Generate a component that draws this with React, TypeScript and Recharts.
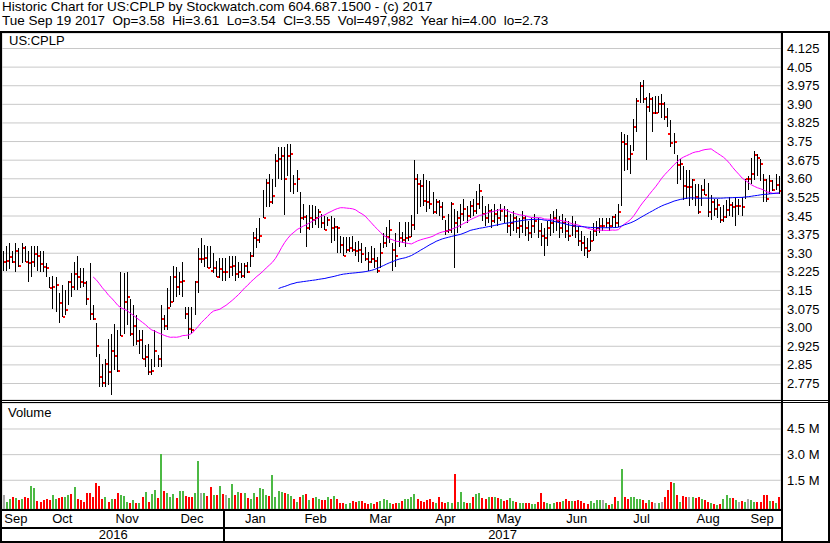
import { ComposedChart, Bar, Line, XAxis, YAxis, CartesianGrid, Cell } from 'recharts'

const FONT = '"Liberation Sans", Arial, sans-serif'

const MONTHS = ['Sep', 'Oct', 'Nov', 'Dec', 'Jan', 'Feb', 'Mar', 'Apr', 'May', 'Jun', 'Jul', 'Aug', 'Sep']
const MONTH_DAYS = [9, 21, 21, 21, 20, 19, 23, 19, 22, 22, 20, 23, 12]
const YEARS = ['2016', '2017']
const YEAR_MONTHS = [4, 9]

// daily bars, Sep 20 2016 .. Sep 19 2017
const HIGH = [
  3.31, 3.33, 3.34, 3.31, 3.34, 3.32, 3.34, 3.33, 3.31,
  3.33, 3.33, 3.33, 3.31, 3.31, 3.26, 3.205, 3.21, 3.205, 3.14, 3.17, 3.15, 3.19, 3.22, 3.265, 3.29, 3.24, 3.24, 3.19, 3.26, 3.09,
  3.02, 2.895, 2.855, 2.875, 2.955, 2.975, 3.015, 2.99, 3.225, 3.22, 3.225, 3.115, 3.09, 3.05, 2.99, 2.99, 2.93, 2.935, 2.875, 2.99, 2.89,
  3.09, 3.05, 3.16, 3.21, 3.25, 3.245, 3.225, 3.265, 3.085, 3.085, 3.085, 3.19, 3.32, 3.36, 3.335, 3.33, 3.33, 3.30, 3.27, 3.28, 3.28,
  3.28, 3.29, 3.29, 3.29, 3.265, 3.26, 3.26, 3.265, 3.305, 3.385, 3.40, 3.44, 3.555, 3.60, 3.62, 3.60, 3.70, 3.73, 3.73, 3.73,
  3.74, 3.74, 3.615, 3.635, 3.545, 3.50, 3.455, 3.495, 3.495, 3.49, 3.48, 3.46, 3.45, 3.445, 3.45, 3.44, 3.41, 3.37, 3.365,
  3.365, 3.365, 3.37, 3.345, 3.35, 3.34, 3.325, 3.305, 3.33, 3.32, 3.285, 3.34, 3.38, 3.405, 3.435, 3.34, 3.38, 3.425, 3.385, 3.425, 3.425, 3.455, 3.675,
  3.62, 3.595, 3.62, 3.595, 3.59, 3.545, 3.52, 3.515, 3.505, 3.435, 3.46, 3.505, 3.48, 3.47, 3.50, 3.52, 3.49, 3.51, 3.52,
  3.55, 3.58, 3.53, 3.49, 3.50, 3.48, 3.50, 3.48, 3.50, 3.49, 3.48, 3.46, 3.47, 3.45, 3.44, 3.47, 3.45, 3.43, 3.44, 3.46, 3.44, 3.42,
  3.40, 3.43, 3.46, 3.47, 3.48, 3.45, 3.46, 3.44, 3.43, 3.45, 3.43, 3.41, 3.39, 3.37, 3.36, 3.39, 3.42, 3.43, 3.44, 3.44, 3.44, 3.44,
  3.45, 3.46, 3.50, 3.79, 3.78, 3.775, 3.735, 3.84, 3.925, 3.99, 4.00, 3.93, 3.945, 3.93, 3.935, 3.935, 3.94, 3.91, 3.885, 3.835,
  3.785, 3.695, 3.68, 3.65, 3.635, 3.635, 3.60, 3.58, 3.58, 3.575, 3.60, 3.585, 3.535, 3.52, 3.52, 3.485, 3.495, 3.515, 3.525, 3.505, 3.525, 3.52, 3.525,
  3.60, 3.61, 3.685, 3.71, 3.70, 3.68, 3.62, 3.60, 3.615, 3.595, 3.62, 3.61,
]
const LOW = [
  3.23, 3.23, 3.235, 3.26, 3.225, 3.245, 3.26, 3.265, 3.185,
  3.205, 3.245, 3.23, 3.225, 3.225, 3.205, 3.16, 3.075, 3.065, 3.02, 3.045, 3.05, 3.09, 3.125, 3.15, 3.15, 3.16, 3.165, 3.09, 3.03, 3.03,
  2.88, 2.76, 2.76, 2.76, 2.77, 2.73, 2.83, 2.82, 2.965, 2.975, 3.01, 2.965, 2.925, 2.93, 2.895, 2.875, 2.84, 2.81, 2.81, 2.84, 2.84,
  2.84, 2.99, 2.99, 3.085, 3.105, 3.125, 3.13, 3.125, 3.035, 2.955, 2.975, 3.05, 3.14, 3.26, 3.245, 3.24, 3.24, 3.22, 3.205, 3.20, 3.19,
  3.19, 3.20, 3.21, 3.19, 3.20, 3.20, 3.20, 3.22, 3.245, 3.285, 3.32, 3.34, 3.44, 3.485, 3.485, 3.50, 3.565, 3.60, 3.595, 3.455,
  3.61, 3.545, 3.54, 3.545, 3.38, 3.435, 3.325, 3.395, 3.40, 3.415, 3.40, 3.40, 3.395, 3.41, 3.34, 3.35, 3.30, 3.30, 3.29,
  3.30, 3.305, 3.305, 3.29, 3.265, 3.26, 3.27, 3.23, 3.26, 3.24, 3.22, 3.24, 3.32, 3.325, 3.34, 3.23, 3.245, 3.325, 3.34, 3.325, 3.35, 3.365, 3.395,
  3.46, 3.485, 3.49, 3.465, 3.48, 3.46, 3.46, 3.45, 3.435, 3.375, 3.38, 3.38, 3.24, 3.38, 3.40, 3.43, 3.42, 3.44, 3.45,
  3.46, 3.48, 3.43, 3.41, 3.42, 3.40, 3.42, 3.41, 3.43, 3.42, 3.38, 3.37, 3.39, 3.38, 3.36, 3.38, 3.37, 3.35, 3.36, 3.38, 3.36, 3.33,
  3.29, 3.33, 3.37, 3.38, 3.39, 3.36, 3.38, 3.36, 3.35, 3.37, 3.36, 3.33, 3.31, 3.29, 3.28, 3.31, 3.35, 3.37, 3.38, 3.39, 3.40, 3.39,
  3.405, 3.40, 3.405, 3.49, 3.63, 3.635, 3.62, 3.71, 3.79, 3.905, 3.905, 3.675, 3.87, 3.79, 3.86, 3.865, 3.845, 3.835, 3.81, 3.73,
  3.70, 3.58, 3.595, 3.515, 3.52, 3.49, 3.515, 3.49, 3.46, 3.49, 3.535, 3.445, 3.435, 3.45, 3.44, 3.42, 3.425, 3.44, 3.45, 3.445, 3.41, 3.455, 3.45,
  3.52, 3.555, 3.58, 3.595, 3.61, 3.59, 3.505, 3.505, 3.54, 3.55, 3.555, 3.54,
]
const CLOSE = [
  3.265, 3.27, 3.285, 3.265, 3.31, 3.25, 3.32, 3.265, 3.26,
  3.265, 3.295, 3.29, 3.255, 3.245, 3.24, 3.16, 3.165, 3.17, 3.10, 3.045, 3.07, 3.185, 3.165, 3.215, 3.205, 3.185, 3.18, 3.115, 3.055, 3.035,
  2.925, 2.80, 2.775, 2.855, 2.82, 2.905, 2.885, 2.825, 2.965, 3.105, 3.125, 2.975, 3.005, 2.945, 2.95, 2.875, 2.88, 2.82, 2.825, 2.905, 2.875,
  3.035, 3.005, 3.08, 3.105, 3.205, 3.165, 3.185, 3.19, 3.055, 2.995, 2.99, 3.185, 3.275, 3.275, 3.28, 3.24, 3.23, 3.24, 3.205, 3.235, 3.225,
  3.225, 3.245, 3.25, 3.215, 3.225, 3.21, 3.25, 3.225, 3.29, 3.36, 3.355, 3.37, 3.44, 3.585, 3.505, 3.53, 3.67, 3.68, 3.69, 3.60,
  3.69, 3.70, 3.58, 3.60, 3.44, 3.445, 3.40, 3.44, 3.435, 3.44, 3.465, 3.42, 3.395, 3.435, 3.40, 3.405, 3.40, 3.335, 3.29,
  3.315, 3.32, 3.315, 3.31, 3.315, 3.295, 3.275, 3.265, 3.275, 3.27, 3.23, 3.30, 3.34, 3.365, 3.395, 3.315, 3.29, 3.36, 3.355, 3.36, 3.365, 3.415, 3.60,
  3.58, 3.57, 3.51, 3.505, 3.50, 3.465, 3.505, 3.485, 3.445, 3.39, 3.395, 3.50, 3.42, 3.44, 3.46, 3.48, 3.45, 3.49, 3.47,
  3.50, 3.55, 3.46, 3.44, 3.47, 3.43, 3.46, 3.44, 3.47, 3.45, 3.41, 3.42, 3.44, 3.40, 3.41, 3.44, 3.40, 3.38, 3.41, 3.43, 3.39, 3.37,
  3.36, 3.40, 3.42, 3.44, 3.43, 3.40, 3.42, 3.39, 3.37, 3.41, 3.39, 3.35, 3.34, 3.32, 3.31, 3.35, 3.39, 3.40, 3.41, 3.41, 3.42, 3.41,
  3.445, 3.42, 3.465, 3.75, 3.74, 3.68, 3.70, 3.81, 3.915, 3.975, 3.92, 3.89, 3.92, 3.865, 3.865, 3.90, 3.90, 3.85, 3.78, 3.745,
  3.75, 3.655, 3.66, 3.57, 3.565, 3.565, 3.595, 3.525, 3.465, 3.555, 3.535, 3.465, 3.505, 3.48, 3.495, 3.435, 3.445, 3.475, 3.495, 3.487, 3.49, 3.49, 3.485,
  3.60, 3.60, 3.62, 3.695, 3.685, 3.66, 3.595, 3.52, 3.59, 3.555, 3.575, 3.55,
]
// millions of shares
const VOLUME = [
  0.64, 0.25, 0.40, 0.50, 0.45, 0.35, 0.40, 0.55, 0.45,
  1.16, 1.03, 0.29, 0.25, 0.35, 0.39, 0.35, 0.64, 0.39, 0.45, 0.54, 0.54, 0.64, 0.68, 1.09, 0.41, 0.35, 0.22, 0.74, 0.74, 0.50,
  1.36, 1.16, 0.41, 0.54, 0.25, 0.39, 0.39, 0.74, 0.64, 0.58, 0.25, 0.15, 0.35, 0.15, 0.19, 0.50, 0.83, 0.25, 0.70, 0.93, 0.45,
  3.06, 0.89, 0.74, 0.54, 0.68, 0.45, 0.89, 0.89, 0.60, 0.54, 0.50, 0.78, 2.64, 0.74, 0.78, 0.60, 1.09, 0.64, 0.64, 1.16, 0.70,
  0.64, 0.45, 1.28, 0.64, 0.83, 0.78, 0.78, 0.45, 0.39, 0.74, 0.54, 1.03, 0.99, 0.64, 0.58, 1.80, 0.54, 0.89, 0.83, 0.78,
  0.70, 0.60, 0.41, 0.25, 0.54, 0.64, 0.68, 0.35, 0.45, 0.54, 0.39, 0.35, 0.35, 0.54, 0.41, 0.58, 0.41, 0.15, 0.15,
  0.11, 0.19, 0.29, 0.25, 0.29, 0.31, 0.15, 0.11, 0.15, 0.09, 0.25, 0.29, 0.41, 0.35, 0.15, 0.11, 0.15, 0.20, 0.30, 0.39, 0.41, 0.50, 0.68,
  0.41, 0.29, 0.25, 0.35, 0.39, 0.21, 0.19, 0.54, 0.25, 0.15, 0.25, 0.15, 1.86, 0.25, 0.83, 0.25, 0.19, 0.19, 0.50,
  0.70, 0.74, 0.45, 0.39, 0.54, 0.50, 0.50, 0.48, 0.41, 0.29, 0.35, 0.45, 0.29, 0.21, 0.15, 0.19, 0.15, 0.19, 0.11, 0.09, 0.23, 0.74,
  0.25, 0.15, 0.11, 0.15, 0.25, 0.25, 0.31, 0.39, 0.29, 0.29, 0.31, 0.35, 0.31, 0.19, 0.11, 0.29, 0.15, 0.35, 0.35, 0.35, 0.20, 0.05,
  0.11, 0.54, 0.30, 2.15, 0.50, 0.41, 0.54, 0.50, 0.41, 0.41, 0.35, 0.15, 0.35, 0.21, 0.19, 0.19, 0.21, 0.54, 0.93, 1.41,
  1.36, 0.64, 0.25, 0.58, 0.54, 0.50, 0.50, 0.45, 0.54, 0.41, 0.35, 0.21, 0.19, 0.11, 0.05, 0.09, 0.41, 0.64, 0.48, 0.45, 0.35, 0.25, 0.30,
  0.21, 0.43, 0.35, 0.23, 0.23, 0.23, 0.64, 0.64, 0.31, 0.27, 0.15, 0.50,
]

const PRICE_TICKS = [2.775, 2.85, 2.925, 3.0, 3.075, 3.15, 3.225, 3.3, 3.375, 3.45, 3.525, 3.6, 3.675, 3.75, 3.825, 3.9, 3.975, 4.05, 4.125]
const PRICE_LABELS = ['2.775', '2.85', '2.925', '3.00', '3.075', '3.15', '3.225', '3.30', '3.375', '3.45', '3.525', '3.60', '3.675', '3.75', '3.825', '3.90', '3.975', '4.05', '4.125']
const VOL_TICKS = [1.5, 3.0, 4.5]
const VOL_LABELS = ['1.5 M', '3.0 M', '4.5 M']

const X_DOMAIN = [-0.5, 251.6]
const PRICE_DOMAIN = [2.7085, 4.1875]
const VOL_DOMAIN = [-0.18, 6.02]

const sma = (n: number) =>
  CLOSE.map((_, i) => {
    if (i < n - 1) return null
    let s = 0
    for (let k = i - n + 1; k <= i; k++) s += CLOSE[k]
    return s / n
  })
const ma30 = sma(30)
const ma90 = sma(90)

const rows = CLOSE.map((c, i) => ({
  i,
  hl: [LOW[i], HIGH[i]],
  high: HIGH[i],
  low: LOW[i],
  close: c,
  ma30: ma30[i],
  ma90: ma90[i],
  vr: [VOL_DOMAIN[0], VOLUME[i]],
}))

const volColor = (i: number) => {
  if (i === 0 || CLOSE[i] === CLOSE[i - 1]) return '#a8a8a8'
  return CLOSE[i] > CLOSE[i - 1] ? '#4cb944' : '#ff0000'
}

const monthStart: number[] = []
MONTH_DAYS.reduce((acc, d) => {
  monthStart.push(acc)
  return acc + d
}, 0)
const bounds = monthStart.slice(1).map((s) => s - 0.5)
const monthCenters = monthStart.map((s, k) => s + (MONTH_DAYS[k] - 1) / 2)
const yearFirst = [0, monthStart[YEAR_MONTHS[0]]]
const yearCenters = [
  (yearFirst[1] - 1) / 2,
  (yearFirst[1] + CLOSE.length - 1) / 2,
]

// pixel frame
const PLOT_L = 2
const PLOT_R = 781
const xPix = (v: number) => PLOT_L + ((v - X_DOMAIN[0]) / (X_DOMAIN[1] - X_DOMAIN[0])) * (PLOT_R - PLOT_L)

function OhlcShape(props: any) {
  const { x, y, width, height, payload } = props
  if (x == null || y == null) return null
  const top = Math.min(y, y + height)
  const bot = Math.max(y, y + height)
  const cx = Math.floor(x + width / 2)
  const range = payload.high - payload.low
  const yc = range > 0 ? top + ((payload.high - payload.close) / range) * (bot - top) : top
  return (
    <g>
      <rect x={cx} y={Math.round(top)} width={1} height={Math.max(1, Math.round(bot) - Math.round(top))} fill="#000" />
      <rect x={cx + 1} y={Math.round(yc) - 1} width={2} height={2} fill="#ff0000" />
    </g>
  )
}

function VolShape(props: any) {
  const { x, y, width, height, fill } = props
  if (x == null || y == null) return null
  const top = Math.round(Math.min(y, y + height))
  const bot = Math.round(Math.max(y, y + height))
  const cx = Math.floor(x + width / 2)
  return <rect x={cx - 1} y={top} width={2} height={Math.max(0, bot - top)} fill={fill} />
}

const RightTick = (labels: string[], ticks: number[]) => (props: any) => {
  const { x, y, payload } = props
  const k = ticks.indexOf(payload.value)
  return (
    <text x={x} y={y + 4.5} fontSize={13} fontFamily={FONT} fill="#000" textAnchor="start">
      {labels[k]}
    </text>
  )
}

const BottomTick = (labels: string[], ticks: number[], dy: number) => (props: any) => {
  const { x, y, payload } = props
  const k = ticks.indexOf(payload.value)
  return (
    <text x={x} y={y + dy} fontSize={13} fontFamily={FONT} fill="#000" textAnchor="middle">
      {labels[k]}
    </text>
  )
}

const line = (left: number, top: number, width: number, height: number) => (
  <div style={{ position: 'absolute', left, top, width, height, background: '#000' }} />
)

export default function App() {
  return (
    <div style={{ position: 'absolute', left: 0, top: 0, width: 830, height: 543, background: '#fff', overflow: 'hidden', fontFamily: FONT }}>
      <div style={{ position: 'absolute', left: 2, top: 0, fontSize: 13.5, lineHeight: '14px', whiteSpace: 'pre', color: '#000' }}>
        {'Historic Chart for US:CPLP by Stockwatch.com 604.687.1500 - (c) 2017\n'}
        {'Tue Sep 19 2017  Op=3.58  Hi=3.61  Lo=3.54  Cl=3.55  Vol=497,982  Year hi=4.00  lo=2.73'}
      </div>

      <div style={{ position: 'absolute', left: 0, top: 33 }}>
        <ComposedChart width={830} height={367} data={rows} margin={{ top: 0, right: 3, bottom: 0, left: 2 }}>
          <CartesianGrid stroke="#c8c8c8" />
          <XAxis type="number" dataKey="i" domain={X_DOMAIN} ticks={bounds} interval={0} height={0} tick={false} tickLine={false} axisLine={false} allowDataOverflow />
          <YAxis
            orientation="right"
            width={46}
            domain={PRICE_DOMAIN}
            ticks={PRICE_TICKS}
            interval={0}
            tickSize={0}
            tickMargin={6}
            tickLine={false}
            axisLine={false}
            allowDataOverflow
            tick={RightTick(PRICE_LABELS, PRICE_TICKS)}
          />
          <Bar dataKey="hl" barSize={3} shape={OhlcShape} isAnimationActive={false} />
          <Line dataKey="ma30" type="linear" stroke="#ff00ff" strokeWidth={1} dot={false} isAnimationActive={false} />
          <Line dataKey="ma90" type="linear" stroke="#0000ff" strokeWidth={1} dot={false} isAnimationActive={false} />
        </ComposedChart>
      </div>

      <div style={{ position: 'absolute', left: 0, top: 403 }}>
        <ComposedChart width={830} height={138} data={rows} margin={{ top: 0, right: 3, bottom: 0, left: 2 }}>
          <CartesianGrid stroke="#c8c8c8" xAxisId="v" />
          <XAxis xAxisId="v" type="number" dataKey="i" domain={X_DOMAIN} ticks={bounds} interval={0} height={0} tick={false} tickLine={false} axisLine={false} allowDataOverflow />
          <XAxis
            xAxisId="m"
            type="number"
            dataKey="i"
            domain={X_DOMAIN}
            ticks={monthCenters}
            interval={0}
            height={18}
            tickSize={0}
            tickMargin={0}
            tickLine={false}
            axisLine={false}
            allowDataOverflow
            tick={BottomTick(MONTHS, monthCenters, 13.5)}
          />
          <XAxis
            xAxisId="y"
            type="number"
            dataKey="i"
            domain={X_DOMAIN}
            ticks={yearCenters}
            interval={0}
            height={14}
            tickSize={0}
            tickMargin={0}
            tickLine={false}
            axisLine={false}
            allowDataOverflow
            tick={BottomTick(YEARS, yearCenters, 12)}
          />
          <YAxis
            orientation="right"
            width={46}
            domain={VOL_DOMAIN}
            ticks={VOL_TICKS}
            interval={0}
            tickSize={0}
            tickMargin={6}
            tickLine={false}
            axisLine={false}
            allowDataOverflow
            tick={RightTick(VOL_LABELS, VOL_TICKS)}
          />
          <Bar xAxisId="v" dataKey="vr" barSize={2} shape={VolShape} isAnimationActive={false}>
            {rows.map((r) => (
              <Cell key={r.i} fill={volColor(r.i)} />
            ))}
          </Bar>
        </ComposedChart>
      </div>

      <div style={{ position: 'absolute', left: 9, top: 34, fontSize: 13, lineHeight: '14px' }}>US:CPLP</div>
      <div style={{ position: 'absolute', left: 8, top: 406, fontSize: 13, lineHeight: '14px' }}>Volume</div>

      {line(0, 31, 830, 2)}
      {line(0, 31, 2, 512)}
      {line(781, 31, 2, 512)}
      {line(828, 31, 2, 512)}
      {line(0, 400, 830, 1)}
      {line(0, 402, 830, 1)}
      {line(0, 509, 783, 2)}
      {line(0, 527, 783, 2)}
      {line(0, 541, 830, 2)}
      {line(Math.round(xPix(yearFirst[1] - 0.5)) - 1, 509, 2, 34)}
    </div>
  )
}
